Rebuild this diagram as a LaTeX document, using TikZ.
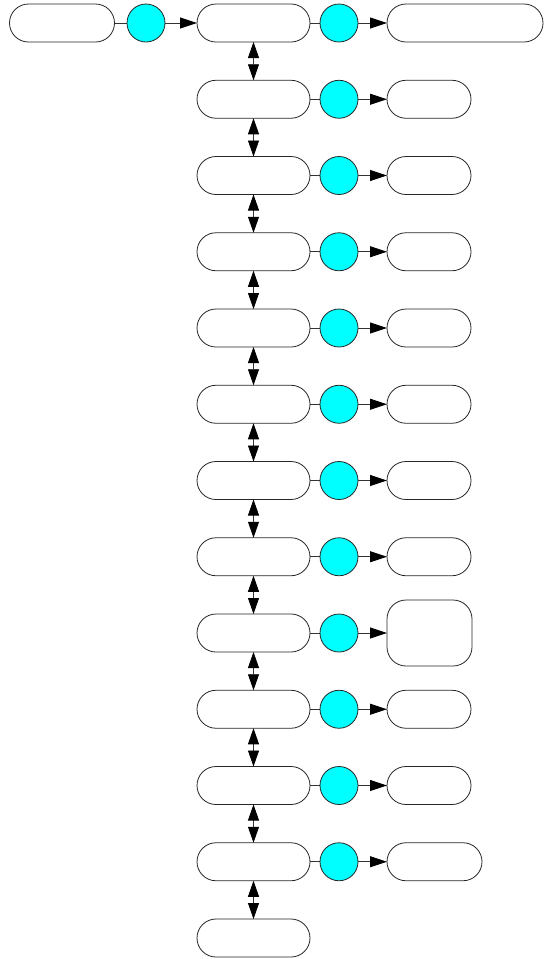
\documentclass[tikz,border=0pt]{standalone}
\usetikzlibrary{arrows.meta}
\definecolor{aqua}{RGB}{0,255,255}
\begin{document}
\begin{tikzpicture}[x=1pt,y=-1pt,
 box/.style={draw=black!85, line width=0.8pt, rounded corners=19pt, minimum height=38pt, inner sep=0pt, outer sep=0pt},
 dot/.style={circle, draw=black!85, fill=aqua, minimum size=38pt, inner sep=0pt, outer sep=0pt, line width=0.8pt},
 link/.style={draw=black!80, line width=0.8pt},
 flow/.style={link, -{Triangle[length=17pt,width=11pt,color=black]}},
 both/.style={link, {Triangle[length=16pt,width=11pt,color=black]}-{Triangle[length=16pt,width=11pt,color=black]}}]
\useasboundingbox (0,0) rectangle (544,959);
% start row
\node[box, minimum width=105pt] (s) at (62,23) {};
\node[dot] (sc) at (146,23) {};
% middle column
\foreach \i in {0,...,12}
  \node[box, minimum width=113pt] (m\i) at (253.5,{23+76.25*\i}) {};
% circles
\foreach \i in {0,...,11}
  \node[dot] (c\i) at (339,{23+76.25*\i}) {};
% right boxes
\foreach \i/\w/\h in {0/156/38,1/84/38,2/84/38,3/84/38,4/84/38,5/84/38,6/84/38,7/84/38,8/85/66,9/84/38,10/84/38,11/95/38}
  \node[box, minimum width=\w pt, minimum height=\h pt] (r\i) at ({387+\w/2},{23+76.25*\i}) {};
% connectors
\draw[link] (s) -- (sc);
\draw[flow] (sc) -- (m0);
\foreach \i in {0,...,11}{
  \draw[link] (m\i) -- (c\i);
  \draw[flow] (c\i) -- (r\i);
}
\foreach \i [evaluate=\i as \j using int(\i+1)] in {0,...,11}
  \draw[both] (m\i) -- (m\j);
\end{tikzpicture}
\end{document}
